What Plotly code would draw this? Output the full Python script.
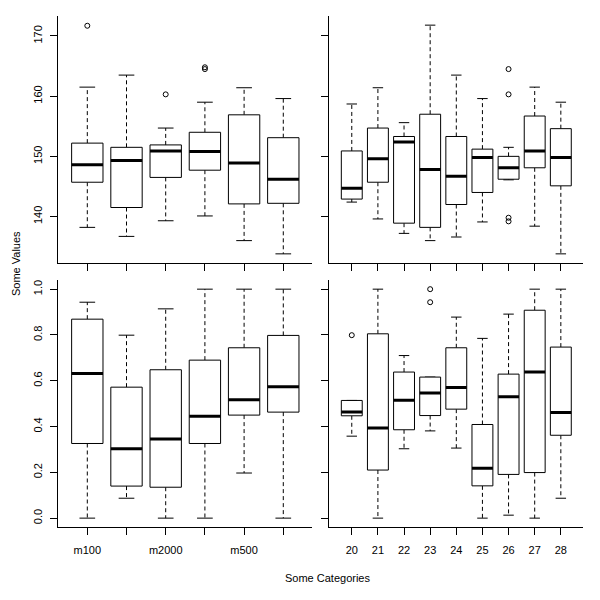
import plotly.graph_objects as go

# categories
method_cats = ["m100", "m1000", "m2000", "m250", "m500", "m5000"]
method_tick_text = ["m100", "", "m2000", "", "m500", ""]
number_cats = ["20", "21", "22", "23", "24", "25", "26", "27", "28"]

# top-left panel (Some Values, methods)
tl_low = [138.2, 136.7, 139.3, 140.1, 136.0, 133.8]
tl_q1 = [145.7, 141.5, 146.5, 147.7, 142.1, 142.2]
tl_med = [148.6, 149.3, 150.9, 150.8, 148.9, 146.2]
tl_q3 = [152.2, 151.5, 151.9, 154.0, 156.9, 153.1]
tl_high = [161.5, 163.5, 154.7, 159.0, 161.4, 159.6]
tl_out = [[171.7], [], [160.3], [164.5, 164.8], [], []]

# top-right panel (Some Values, 20..28)
tr_low = [142.4, 139.6, 137.2, 136.0, 136.6, 139.1, 146.1, 138.4, 133.8]
tr_q1 = [142.9, 145.7, 138.9, 138.2, 142.0, 144.0, 146.2, 148.1, 145.1]
tr_med = [144.7, 149.6, 152.4, 147.8, 146.7, 149.8, 148.1, 150.9, 149.8]
tr_q3 = [150.9, 154.7, 153.3, 157.0, 153.3, 151.2, 150.0, 156.7, 154.6]
tr_high = [158.7, 161.4, 155.6, 171.8, 163.5, 159.6, 151.5, 161.5, 159.0]
tr_out = [[], [], [], [], [], [], [164.5, 160.3, 139.8, 139.2], [], []]

# bottom-left panel (0..1, methods)
bl_low = [0.0, 0.087, 0.0, 0.0, 0.197, 0.0]
bl_q1 = [0.326, 0.140, 0.135, 0.326, 0.450, 0.463]
bl_med = [0.632, 0.303, 0.346, 0.445, 0.517, 0.574]
bl_q3 = [0.869, 0.572, 0.648, 0.690, 0.744, 0.798]
bl_high = [0.943, 0.799, 0.914, 1.0, 1.0, 1.0]
bl_out = [[], [], [], [], [], []]

# bottom-right panel (0..1, 20..28)
br_low = [0.358, 0.0, 0.303, 0.381, 0.306, 0.0, 0.013, 0.0, 0.087]
br_q1 = [0.447, 0.210, 0.386, 0.448, 0.476, 0.141, 0.191, 0.199, 0.362]
br_med = [0.463, 0.394, 0.515, 0.547, 0.571, 0.218, 0.530, 0.638, 0.461]
br_q3 = [0.514, 0.805, 0.638, 0.616, 0.744, 0.409, 0.629, 0.908, 0.747]
br_high = [0.514, 1.0, 0.710, 0.616, 0.878, 0.785, 0.891, 1.0, 1.0]
br_out = [[0.799], [], [], [1.0, 0.943], [], [], [], [], []]

FONT = "Liberation Sans, Arial, Helvetica, sans-serif"
W = H = 600
OFF = 8  # page body margin pushes the plot down/right by this much
BOX_HALF = 0.4
STAPLE_HALF = 0.2


def padded_range(lo, hi, frac=0.04):
    span = hi - lo
    return [lo - frac * span, hi + frac * span]


def px_x(v):
    return (v - OFF) / W


def px_y(v):
    return 1 - (v - OFF) / H


def add_boxplot(fig, xa, ya, low, q1, med, q3, high, outs):
    bx, by, mx, my, wx, wy, sx, sy, ox, oy = ([] for _ in range(10))
    for i in range(len(med)):
        p = i + 1
        l, r = p - BOX_HALF, p + BOX_HALF
        bx += [l, r, r, l, l, None]
        by += [q1[i], q1[i], q3[i], q3[i], q1[i], None]
        mx += [l, r, None]
        my += [med[i], med[i], None]
        wx += [p, p, None, p, p, None]
        wy += [q3[i], high[i], None, q1[i], low[i], None]
        sx += [p - STAPLE_HALF, p + STAPLE_HALF, None, p - STAPLE_HALF, p + STAPLE_HALF, None]
        sy += [high[i], high[i], None, low[i], low[i], None]
        for v in outs[i]:
            ox.append(p)
            oy.append(v)
    common = dict(xaxis=xa, yaxis=ya, showlegend=False, hoverinfo="skip")
    fig.add_trace(go.Scatter(x=wx, y=wy, mode="lines",
                             line=dict(color="black", width=1, dash="4px,3px"), **common))
    fig.add_trace(go.Scatter(x=sx, y=sy, mode="lines",
                             line=dict(color="black", width=1), **common))
    fig.add_trace(go.Scatter(x=bx, y=by, mode="lines", fill="toself", fillcolor="white",
                             line=dict(color="black", width=1), **common))
    fig.add_trace(go.Scatter(x=mx, y=my, mode="lines",
                             line=dict(color="black", width=3), **common))
    fig.add_trace(go.Scatter(x=ox, y=oy, mode="markers",
                             marker=dict(symbol="circle-open", size=5, color="black",
                                         line=dict(width=1)), **common))


fig = go.Figure()
add_boxplot(fig, "x", "y", tl_low, tl_q1, tl_med, tl_q3, tl_high, tl_out)
add_boxplot(fig, "x2", "y2", tr_low, tr_q1, tr_med, tr_q3, tr_high, tr_out)
add_boxplot(fig, "x3", "y3", bl_low, bl_q1, bl_med, bl_q3, bl_high, bl_out)
add_boxplot(fig, "x4", "y4", br_low, br_q1, br_med, br_q3, br_high, br_out)

top_vals = tl_low + tr_low + tl_high + tr_high + sum(tl_out + tr_out, [])
bot_vals = bl_low + br_low + bl_high + br_high + sum(bl_out + br_out, [])
top_range = padded_range(min(top_vals), max(top_vals))
bot_range = padded_range(min(bot_vals), max(bot_vals))

left_dom = [px_x(58.3), px_x(312.3)]
right_dom = [px_x(329.3), px_x(583.3)]
top_dom = [px_y(263), px_y(16)]
bot_dom = [px_y(527.3), px_y(280)]

axis_common = dict(
    showline=True, linecolor="black", linewidth=1, mirror=False,
    ticks="outside", ticklen=7, tickcolor="black", tickwidth=1,
    showgrid=False, zeroline=False,
    tickfont=dict(family=FONT, size=11, color="black"),
)


def x_axis(dom, n, anchor, labels=None):
    d = dict(axis_common, domain=dom, anchor=anchor,
             range=padded_range(0.5, n + 0.5), tickvals=list(range(1, n + 1)))
    if labels is None:
        d["showticklabels"] = False
    else:
        d["ticktext"] = labels
        d["ticklabelstandoff"] = 5
    return d


def y_axis(dom, rng, anchor, dtick, fmt, labels=True):
    d = dict(axis_common, domain=dom, anchor=anchor, range=rng,
             tick0=0, dtick=dtick, tickformat=fmt, tickangle=-90)
    if labels:
        d["ticklabelstandoff"] = 4
    else:
        d["showticklabels"] = False
    return d


fig.update_layout(
    width=W, height=H,
    margin=dict(l=0, r=0, t=0, b=0),
    paper_bgcolor="white", plot_bgcolor="white",
    font=dict(family=FONT, size=11, color="black"),
    xaxis=x_axis(left_dom, len(method_cats), "y"),
    yaxis=y_axis(top_dom, top_range, "x", 10, "d"),
    xaxis2=x_axis(right_dom, len(number_cats), "y2"),
    yaxis2=y_axis(top_dom, top_range, "x2", 10, "d", labels=False),
    xaxis3=x_axis(left_dom, len(method_cats), "y3", method_tick_text),
    yaxis3=y_axis(bot_dom, bot_range, "x3", 0.2, ".1f"),
    xaxis4=x_axis(right_dom, len(number_cats), "y4", number_cats),
    yaxis4=y_axis(bot_dom, bot_range, "x4", 0.2, ".1f", labels=False),
    annotations=[
        dict(text="Some Values", x=0, y=px_y(264), xref="paper", yref="paper",
             textangle=-90, showarrow=False, xanchor="left", yanchor="middle",
             font=dict(family=FONT, size=11, color="black")),
        dict(text="Some Categories", x=px_x(327), y=px_y(578), xref="paper", yref="paper",
             showarrow=False, xanchor="center", yanchor="middle",
             font=dict(family=FONT, size=11, color="black")),
    ],
)

fig.write_html("out.html")
